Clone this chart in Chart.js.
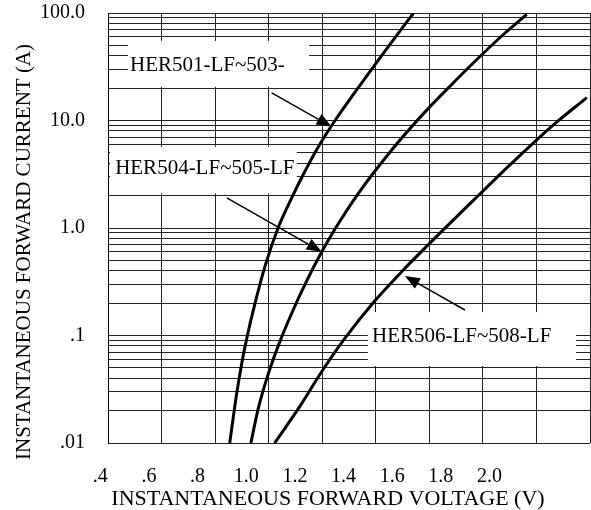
<!DOCTYPE html>
<html>
<head>
<meta charset="utf-8">
<script src="https://cdn.jsdelivr.net/npm/chart.js@4.4.1/dist/chart.umd.min.js"></script>
<style>
  html, body { margin:0; padding:0; background:#fff; }
  #wrap { width:591px; height:510px; position:relative; }
</style>
</head>
<body>
<div id="wrap"><canvas id="vfChart"></canvas></div>
<script>
// forward voltage (V) vs forward current (A)
const her501V = [0.932, 0.961, 0.982, 1.003, 1.036, 1.077, 1.132, 1.180, 1.235, 1.290, 1.365, 1.450, 1.530, 1.630, 1.688];
const her501I = [0.01, 0.0291, 0.0559, 0.0961, 0.199, 0.440, 1.016, 1.77, 3.16, 5.38, 10.0, 18.75, 33.2, 67.0, 100];

const her504V = [1.019, 1.050, 1.091, 1.139, 1.187, 1.242, 1.310, 1.365, 1.461, 1.598, 1.721, 1.838, 1.927, 2.057, 2.153];
const her504I = [0.01, 0.0212, 0.0442, 0.0886, 0.161, 0.300, 0.597, 0.978, 2.10, 5.32, 11.1, 20.9, 33.2, 63.1, 97];

const her506V = [1.117, 1.221, 1.310, 1.406, 1.522, 1.639, 1.742, 1.968, 2.071, 2.180, 2.276, 2.400];
const her506I = [0.01, 0.0220, 0.0460, 0.0944, 0.202, 0.392, 0.676, 2.15, 3.62, 6.17, 9.64, 16.3];

const seriesNames = ['HER501-LF~503-', 'HER504-LF~505-LF', 'HER506-LF~508-LF'];

// printed tick labels (they sit off the ruled lines on the original sheet)
const xTickValues = [0.4, 0.6, 0.8, 1.0, 1.2, 1.4, 1.6, 1.8, 2.0];
const xTickLabels = ['.4', '.6', '.8', '1.0', '1.2', '1.4', '1.6', '1.8', '2.0'];
const yTickValues = [0.01, 0.1, 1, 10, 100];
const yTickLabels = ['.01', '.1', '1.0', '10.0', '100.0'];

const xTitle = 'INSTANTANEOUS FORWARD VOLTAGE (V)';
const yTitle = 'INSTANTANEOUS FORWARD CURRENT (A)';

// callout boxes + arrows, in data units [V, A]
const callouts = [
  { text: seriesNames[0], box: [0.514, 1.258, 20.6, 55], at: [0.522, 32.8], tail: [1.105, 18.1], tip: [1.351, 8.76] },
  { text: seriesNames[1], box: [0.440, 1.208, 2.1, 5.7], at: [0.461, 3.61], tail: [0.920, 1.91], tip: [1.310, 0.602] },
  { text: seriesNames[2], box: [1.500, 2.356, 0.052, 0.165], at: [1.517, 0.0989], tail: [1.899, 0.1726], tip: [1.652, 0.358] }
];

const FONT = '"Liberation Serif", "Times New Roman", serif';

function toPoints(vs, is) {
  return vs.map((v, i) => ({ x: v, y: is[i] }));
}

// log paper rulings 1..9 per decade
const yRulings = [];
[0.01, 0.1, 1, 10].forEach(d => { for (let m = 1; m <= 9; m++) yRulings.push(+(m * d).toPrecision(3)); });
yRulings.push(100);

function noPad(s) {
  s.paddingTop = 0; s.paddingBottom = 0; s.paddingLeft = 0; s.paddingRight = 0;
}

const calloutPlugin = {
  id: 'callouts',
  beforeDatasetsDraw(chart) {
    const { ctx, scales: { x, y } } = chart;
    ctx.save();
    ctx.fillStyle = '#fff';
    callouts.forEach(c => {
      const l = x.getPixelForValue(c.box[0]), r = x.getPixelForValue(c.box[1]);
      const b = y.getPixelForValue(c.box[2]), t = y.getPixelForValue(c.box[3]);
      ctx.fillRect(l, t, r - l, b - t);
    });
    ctx.restore();
  },
  afterDatasetsDraw(chart) {
    const { ctx, scales: { x, y } } = chart;
    ctx.save();
    ctx.fillStyle = '#000';
    ctx.strokeStyle = '#000';
    ctx.font = '21px ' + FONT;
    ctx.textBaseline = 'middle';
    ctx.textAlign = 'left';
    callouts.forEach(c => {
      ctx.fillText(c.text, x.getPixelForValue(c.at[0]), y.getPixelForValue(c.at[1]));
      const x0 = x.getPixelForValue(c.tail[0]), y0 = y.getPixelForValue(c.tail[1]);
      const x1 = x.getPixelForValue(c.tip[0]), y1 = y.getPixelForValue(c.tip[1]);
      const a = Math.atan2(y1 - y0, x1 - x0);
      const len = 15, half = 6;
      const bx = x1 - len * Math.cos(a), by = y1 - len * Math.sin(a);
      ctx.lineWidth = 1.5;
      ctx.beginPath();
      ctx.moveTo(x0, y0);
      ctx.lineTo(bx, by);
      ctx.stroke();
      ctx.beginPath();
      ctx.moveTo(x1, y1);
      ctx.lineTo(bx + half * Math.sin(a), by - half * Math.cos(a));
      ctx.lineTo(bx - half * Math.sin(a), by + half * Math.cos(a));
      ctx.closePath();
      ctx.fill();
    });
    ctx.restore();
  },
  afterDraw(chart) {
    const ctx = chart.ctx;
    ctx.save();
    ctx.fillStyle = '#000';
    ctx.textAlign = 'center';
    ctx.textBaseline = 'middle';
    ctx.font = '22px ' + FONT;
    ctx.fillText(xTitle, 328, 499);
    ctx.font = '21px ' + FONT;
    ctx.translate(24, 252);
    ctx.rotate(-Math.PI / 2);
    ctx.fillText(yTitle, 0, 0);
    ctx.restore();
  }
};

const lineStyle = { borderColor: '#000', borderWidth: 3, pointRadius: 0, fill: false, cubicInterpolationMode: 'monotone' };

new Chart(document.getElementById('vfChart'), {
  type: 'line',
  data: {
    datasets: [
      Object.assign({ label: seriesNames[0], data: toPoints(her501V, her501I) }, lineStyle),
      Object.assign({ label: seriesNames[1], data: toPoints(her504V, her504I) }, lineStyle),
      Object.assign({ label: seriesNames[2], data: toPoints(her506V, her506I) }, lineStyle)
    ]
  },
  options: {
    responsive: true,
    maintainAspectRatio: false,
    animation: false,
    layout: { padding: { top: 13, right: 1, left: 0, bottom: 0 } },
    plugins: { legend: { display: false }, tooltip: { enabled: false } },
    scales: {
      x: {
        type: 'linear',
        position: 'bottom',
        min: 0.4317,
        max: 2.4132,
        grid: { display: false, drawTicks: false },
        border: { display: false },
        afterBuildTicks: s => { s.ticks = xTickValues.map(v => ({ value: v })); },
        afterFit: s => { s.height = 67; noPad(s); },
        ticks: {
          autoSkip: false,
          maxRotation: 0,
          padding: 22,
          color: '#000',
          font: { family: FONT, size: 20 },
          callback: (v, i) => xTickLabels[i]
        }
      },
      xg: {
        type: 'linear',
        position: 'bottom',
        min: 0.4,
        max: 2.2,
        grid: { color: '#222', lineWidth: 1, drawTicks: false },
        border: { color: '#000', width: 1 },
        ticks: { display: false, stepSize: 0.2 },
        afterFit: s => { s.height = 0; noPad(s); }
      },
      y: {
        type: 'logarithmic',
        position: 'left',
        min: 0.01,
        max: 100,
        grid: { color: '#222', lineWidth: 1, drawTicks: false },
        border: { color: '#000', width: 1 },
        afterBuildTicks: s => { s.ticks = yRulings.map(v => ({ value: v })); },
        afterFit: s => { s.width = 108; noPad(s); },
        ticks: {
          autoSkip: false,
          padding: 23,
          color: '#000',
          font: { family: FONT, size: 20 },
          callback: v => {
            const i = yTickValues.findIndex(t => Math.abs(t - v) / t < 1e-6);
            return i >= 0 ? yTickLabels[i] : '';
          }
        }
      }
    }
  },
  plugins: [calloutPlugin]
});
</script>
</body>
</html>
